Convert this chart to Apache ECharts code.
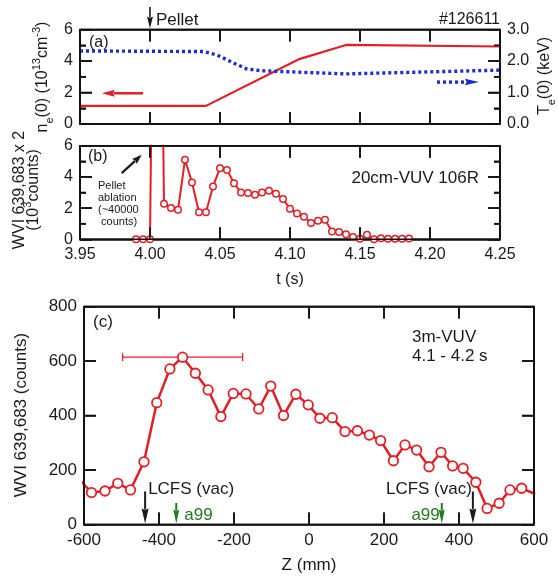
<!DOCTYPE html>
<html><head><meta charset="utf-8">
<script src="https://cdn.jsdelivr.net/npm/echarts@6/dist/echarts.min.js"></script>
<style>html,body{margin:0;padding:0;background:#fff}#c{width:558px;height:576px}</style>
</head><body><div id="c"></div>
<script>
// ---- data ----
const neData = [[3.95,1.15],[4.04,1.15],[4.106,4.1],[4.14,5.02],[4.25,4.92]];
const teData = [[3.95,2.32],[4.038,2.30],[4.048,2.19],[4.06,1.93],[4.069,1.75],[4.08,1.69],[4.14,1.59],[4.25,1.71]];
const tB = [3.990,3.995,4.000,4.005,4.010,4.015,4.020,4.025,4.030,4.035,4.040,4.045,4.050,4.055,4.060,4.065,4.070,4.075,4.080,4.085,4.090,4.095,4.100,4.105,4.110,4.115,4.120,4.125,4.130,4.135,4.140,4.145,4.150,4.155,4.160,4.165,4.170,4.175,4.180,4.185];
const vB = [0,0,0,40,2.28,2.0,1.89,5.1,3.64,1.74,1.74,3.39,4.56,4.45,3.6,3.0,2.96,2.85,3.0,3.11,2.92,2.58,1.96,1.66,1.44,1.04,1.19,1.25,0.5,0.46,0.33,0.14,0.04,0.29,0.0,0.06,0.04,0.04,0.04,0.05];
const zC = [-612,-580,-544,-510,-476,-440,-406,-371,-337,-303,-269,-235,-202,-168,-134,-102,-68,-35,-2,29,62,96,129,161,191,225,256,287,320,352,383,411,445,475,507,536,567,603];
const vC = [165,117,123,151,127,230,447,571,614,555,494,396,481,479,424,508,400,478,439,390,392,341,344,328,308,234,292,273,212,265,215,206,155,59,78,127,133,112];
const errBar = [[-497,-177,614]];
const xTicksT = [3.95,4.25,0.05];
const yTicksNe = [0,6,2];
const yTicksTe = [0,3,1];
const xTicksZ = [-600,600,200];
const yTicksC = [0,800,200];
const pelletT = 4.00;
const lcfsZ = [-437,437];
const a99Z = [-354,354];
const neArrow = [[3.995,1.95],[3.9655,1.95]];
const teArrow = [[4.205,1.33],[4.235,1.33]];
const ablArrow = [[3.9798,4.24],[3.9941,5.42]];

const RED = '#e41e26', BLUE = '#1a2fd0', GREEN = '#1f7a1f', INK = '#1a1a1a', LINE = '#111111';
const FF = '"Liberation Sans", Arial, sans-serif';

const chart = echarts.init(document.getElementById('c'));

function axis(opts){
  return {
    gridIndex: opts.grid, type:'value', min: opts.r[0], max: opts.r[1], interval: opts.r[2],
    position: opts.pos,
    axisLine: {show:true, onZero:false, lineStyle:{color:LINE, width:1.6}},
    axisTick: {show:true, inside:true, length:12, lineStyle:{color:LINE, width:1.6}},
    minorTick: {show: !!opts.minor, splitNumber:2, length:6, lineStyle:{color:LINE, width:1.6}},
    splitLine: {show:false},
    axisLabel: {show: !!opts.label, margin:7, color:INK, fontFamily:FF, fontSize: opts.fs||16, formatter: opts.fmt},
  };
}
const f2 = v => v.toFixed(2), f1 = v => v.toFixed(1), f0 = v => String(Math.round(v));
const gridBase = {containLabel:false, outerBoundsMode:'none', show:true, borderColor:LINE, borderWidth:1.6, backgroundColor:'transparent'};

const option = {
  animation:false,
  grid: [
    Object.assign({left:80, top:29.5, width:420, height:94.5}, gridBase),
    Object.assign({left:80, top:145.7, width:420, height:93.6}, gridBase),
    Object.assign({left:84, top:306.5, width:450, height:218}, gridBase)
  ],
  xAxis: [
    axis({grid:0, r:xTicksT, pos:'bottom'}),
    axis({grid:0, r:xTicksT, pos:'top'}),
    axis({grid:1, r:xTicksT, pos:'bottom', label:true, fmt:f2}),
    axis({grid:1, r:xTicksT, pos:'top'}),
    axis({grid:2, r:xTicksZ, pos:'bottom', label:true, fmt:f0, fs:17}),
    axis({grid:2, r:xTicksZ, pos:'top'})
  ],
  yAxis: [
    axis({grid:0, r:yTicksNe, pos:'left', label:true, minor:true, fmt:f0}),
    axis({grid:0, r:yTicksTe, pos:'right', label:true, minor:true, fmt:f1}),
    axis({grid:1, r:yTicksNe, pos:'left', label:true, minor:true, fmt:f0}),
    axis({grid:1, r:yTicksNe, pos:'right', minor:true}),
    axis({grid:2, r:yTicksC, pos:'left', label:true, fmt:f0, fs:17}),
    axis({grid:2, r:yTicksC, pos:'right'})
  ],
  series: [
    {type:'line', xAxisIndex:0, yAxisIndex:0, data:neData, showSymbol:false, lineStyle:{color:RED, width:2.2}, clip:true},
    {type:'line', xAxisIndex:0, yAxisIndex:1, data:teData, showSymbol:false, lineStyle:{color:BLUE, width:3.4, type:[3,3]}, clip:true},
    {type:'line', xAxisIndex:2, yAxisIndex:2, data:tB.map((t,i)=>[t,vB[i]]), symbol:'circle', symbolSize:6.5,
      itemStyle:{color:'#fff', borderColor:RED, borderWidth:1.5}, lineStyle:{color:RED, width:2}, clip:true},
    {type:'line', xAxisIndex:4, yAxisIndex:4, data:zC.map((z,i)=>[z,vC[i]]), symbol:'circle', symbolSize:9.5,
      itemStyle:{color:'#fff', borderColor:RED, borderWidth:1.8}, lineStyle:{color:RED, width:2.5}, clip:true},
    {type:'custom', xAxisIndex:4, yAxisIndex:4, data:errBar, encode:{x:[0,1], y:2},
      renderItem:(params, api) => {
        const y = api.value(2);
        const p1 = api.coord([api.value(0), y]), p2 = api.coord([api.value(1), y]);
        return {type:'group', children:[
          {type:'line', shape:{x1:p1[0], y1:p1[1], x2:p2[0], y2:p2[1]}, style:{stroke:RED, lineWidth:1.3}},
          {type:'line', shape:{x1:p1[0], y1:p1[1]-4, x2:p1[0], y2:p1[1]+4}, style:{stroke:RED, lineWidth:1.3}},
          {type:'line', shape:{x1:p2[0], y1:p2[1]-4, x2:p2[0], y2:p2[1]+4}, style:{stroke:RED, lineWidth:1.3}}
        ]};
      }}
  ]
};
chart.setOption(option);

// ---- annotations (custom series; positions from the axes) ----
const px = (ax, v) => chart.convertToPixel({xAxisIndex:ax}, v);
const py = (ax, v) => chart.convertToPixel({yAxisIndex:ax}, v);

function arrow(x1,y1,x2,y2,color,lw,hl,hw,dash){
  const a = Math.atan2(y2-y1, x2-x1), c = Math.cos(a), s = Math.sin(a);
  const bx = x2 - hl*c, by = y2 - hl*s;
  const ox = -s*hw/2, oy = c*hw/2;
  const ls = {stroke:color, lineWidth:lw};
  if (dash) ls.lineDash = dash;
  return [
    {type:'line', shape:{x1:x1, y1:y1, x2:bx + c, y2:by + s}, style:ls},
    {type:'polygon', shape:{points:[[x2,y2],[bx+ox,by+oy],[bx+1.5*c,by+1.5*s],[bx-ox,by-oy]]}, style:{fill:color}}
  ];
}
function txt(x,y,text,o){
  o = o||{};
  const st = {text:text, fontFamily:FF, fontSize:o.fs||16, fill:o.color||INK, align:o.align||'left', verticalAlign:o.va||'middle'};
  if (o.lh) st.lineHeight = o.lh;
  if (o.rich) st.rich = o.rich;
  return {type:'text', x:x, y:y, rotation:o.rot||0, style:st};
}
const g = [];
function ln(x1,y1,x2,y2){ g.push({type:'line', shape:{x1:x1,y1:y1,x2:x2,y2:y2}, style:{stroke:LINE, lineWidth:1.6}}); }
function frame(xa, ya, xr, yr, yMinor){
  const L = px(xa, xr[0]), Rr = px(xa, xr[1]), T = py(ya, yr[1]), B = py(ya, yr[0]);
  ln(L, T, Rr, T); ln(Rr, T, Rr, B); ln(Rr, B, L, B); ln(L, B, L, T);
  for (let v = xr[0]+xr[2]; v < xr[1]-1e-9; v += xr[2]) { const x = px(xa, v); ln(x, B, x, B-12); ln(x, T, x, T+12); }
  for (let v = yr[0]; v <= yr[1]+1e-9; v += yr[2]) {
    if (v > yr[0]+1e-9 && v < yr[1]-1e-9) { const y = py(ya, v); ln(L, y, L+12, y); ln(Rr, y, Rr-12, y); }
    if (yMinor && v < yr[1]-1e-9) { const y = py(ya, v + yr[2]/2); ln(L, y, L+6, y); ln(Rr, y, Rr-6, y); }
  }
}
frame(0, 0, xTicksT, yTicksNe, true);
frame(2, 2, xTicksT, yTicksNe, true);
frame(4, 4, xTicksZ, yTicksC, false);

const xp = px(0, pelletT);
g.push(...arrow(xp, 7, xp, 28.5, INK, 1.6, 12, 6));
g.push(txt(xp+6, 20.5, 'Pellet', {fs:17}));
g.push(txt(500, 20, '#126611', {fs:16, align:'right'}));
g.push(txt(89, 43, '(a)', {fs:16}));
g.push(...arrow(px(0,neArrow[0][0]), py(0,neArrow[0][1]), px(0,neArrow[1][0]), py(0,neArrow[1][1]), RED, 2.5, 13, 7));
g.push(...arrow(px(0,teArrow[0][0]), py(1,teArrow[0][1]), px(0,teArrow[1][0]), py(1,teArrow[1][1]), BLUE, 3.4, 14, 6.5, [3,3]));
g.push(txt(88, 157, '(b)', {fs:16}));
g.push(...arrow(px(2,ablArrow[0][0]), py(2,ablArrow[0][1]), px(2,ablArrow[1][0]), py(2,ablArrow[1][1]), INK, 2.2, 10, 7));
g.push(txt(98, 180, 'Pellet\nablation\n(~40000\n counts)', {fs:11, lh:12, va:'top'}));
g.push(txt(479, 178, '20cm-VUV 106R', {fs:17, align:'right'}));
g.push(txt(290, 280, 't (s)', {fs:16, align:'center'}));
g.push(txt(93, 322, '(c)', {fs:17}));
g.push(txt(412, 337, '3m-VUV', {fs:17}));
g.push(txt(412, 356, '4.1 - 4.2 s', {fs:17}));
const yb = py(4, 0);
lcfsZ.forEach(z => { const x = px(4, z); g.push(...arrow(x, 491.5, x, yb-1, INK, 2, 15, 7)); });
a99Z.forEach(z => { const x = px(4, z); g.push(...arrow(x, 503, x, yb-1, GREEN, 2, 14, 6)); });
g.push(txt(px(4,lcfsZ[0])+3, 489, 'LCFS (vac)', {fs:17}));
g.push(txt(px(4,lcfsZ[1])-1, 489, 'LCFS (vac)', {fs:17, align:'right'}));
g.push(txt(px(4,a99Z[0])+8, 515, 'a99', {fs:17, color:GREEN}));
g.push(txt(px(4,a99Z[1])-2, 515, 'a99', {fs:17, color:GREEN, align:'right'}));
g.push(txt(309, 565, 'Z (mm)', {fs:17, align:'center'}));
const R = Math.PI/2;
const mS = {fontSize:16, fontFamily:FF, lineHeight:24, verticalAlign:'middle', color:INK};
const pS = {fontSize:11, fontFamily:FF, lineHeight:12, verticalAlign:'top', color:INK};
const sS = {fontSize:11, fontFamily:FF, lineHeight:11, verticalAlign:'bottom', color:INK};
g.push(txt(43, 77, '{m|n}{s|e}{m|(0) (10}{p|13}{m|cm}{p|-3}{m|)}', {rot:R, align:'center', rich:{m:mS, p:pS, s:sS}}));
g.push(txt(545, 76, '{m|T}{s|e}{m|(0) (keV)}', {rot:R, align:'center', rich:{m:mS, s:sS}}));
g.push(txt(20, 190, 'WVI 639,683 x 2', {rot:R, align:'center', fs:16}));
g.push(txt(34, 190, '{m|(10}{p|3}{m|counts)}', {rot:R, align:'center', rich:{m:mS, p:pS}}));
g.push(txt(21, 415, 'WVI 639,683 (counts)', {rot:R, align:'center', fs:17}));

option.series.push({type:'custom', xAxisIndex:4, yAxisIndex:4, data:[[0,0]], clip:false, silent:true, z:10,
  renderItem: () => ({type:'group', children:g})});
chart.setOption(option);
</script>
</body></html>
